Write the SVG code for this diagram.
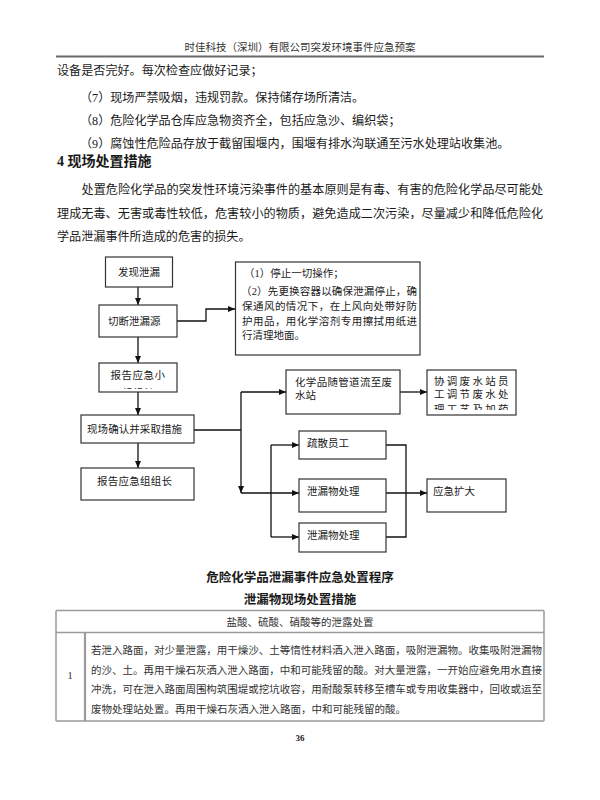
<svg xmlns="http://www.w3.org/2000/svg" width="600" height="800" viewBox="0 0 600 800">
<style>
text{font-family:"Liberation Serif","Noto Sans CJK SC",serif;fill:#1a1a1a}
.body{font-size:12.1px}
.hd{font-size:10.5px;fill:#333}
.h2{font-size:14px;font-weight:bold}
.cap{font-size:12.5px;font-weight:bold}
.bx{fill:#fff;stroke:#333;stroke-width:1.2}
.bt{font-size:10.5px}
.tb{font-size:10.5px;fill:#333}
.tl{stroke:#9a9a9a;stroke-width:1.5;fill:none}
.cn{stroke:#111;stroke-width:1.3;fill:none}
.ar{marker-end:url(#ah)}
</style>
<defs>
<marker id="ah" markerWidth="7" markerHeight="6" refX="7" refY="3" orient="auto" markerUnits="userSpaceOnUse">
<path d="M0,0 L7,3 L0,6 z" fill="#111"/>
</marker>
<clipPath id="c1"><rect x="99" y="363" width="78" height="26"/></clipPath>
<clipPath id="c2"><rect x="427" y="370" width="89" height="40"/></clipPath>
</defs>
<rect width="600" height="800" fill="#fff"/>

<g id="header">
<text class="hd" x="300" y="51" text-anchor="middle">时佳科技（深圳）有限公司突发环境事件应急预案</text>
<line x1="56" y1="56.5" x2="544" y2="56.5" stroke="#6a6a6a" stroke-width="2"/>
</g>

<g id="text-body">
<text class="body" x="57" y="74.5">设备是否完好。每次检查应做好记录；</text>
<text class="body" x="80" y="101.5">（7）现场严禁吸烟，违规罚款。保持储存场所清洁。</text>
<text class="body" x="80" y="124.5">（8）危险化学品仓库应急物资齐全，包括应急沙、编织袋；</text>
<text class="body" x="80" y="147.5">（9）腐蚀性危险品存放于截留围堰内，围堰有排水沟联通至污水处理站收集池。</text>
<text class="h2" x="57" y="166">4 现场处置措施</text>
<text class="body" x="81.5" y="193.5" textLength="461.5" lengthAdjust="spacing">处置危险化学品的突发性环境污染事件的基本原则是有毒、有害的危险化学品尽可能处</text>
<text class="body" x="57" y="217.5" textLength="486" lengthAdjust="spacing">理成无毒、无害或毒性较低，危害较小的物质，避免造成二次污染，尽量减少和降低危险化</text>
<text class="body" x="57" y="240.5">学品泄漏事件所造成的危害的损失。</text>
</g>

<g id="connectors">
<line class="cn ar" x1="138" y1="287" x2="138" y2="305"/>
<polyline class="cn ar" points="177,321 206,321 206,309 235,309"/>
<line class="cn ar" x1="138" y1="337" x2="138" y2="363"/>
<line class="cn ar" x1="138" y1="392" x2="138" y2="415"/>
<line class="cn ar" x1="138" y1="443" x2="138" y2="468"/>
<line class="cn" x1="194" y1="430" x2="241" y2="430"/>
<line class="cn ar" x1="241" y1="392" x2="241" y2="493"/>
<line class="cn ar" x1="241" y1="392" x2="286" y2="392"/>
<line class="cn ar" x1="241" y1="493" x2="299" y2="493"/>
<line class="cn ar" x1="400" y1="392" x2="427" y2="392"/>
<line class="cn" x1="271" y1="445" x2="271" y2="537"/>
<line class="cn ar" x1="271" y1="445" x2="299" y2="445"/>
<line class="cn ar" x1="271" y1="537" x2="299" y2="537"/>
<polyline class="cn" points="386,445 406,445 406,537 386,537"/>
<line class="cn ar" x1="386" y1="493" x2="427" y2="493"/>
</g>

<g id="n-faxian">
<rect class="bx" x="105.5" y="257" width="67" height="30"/>
<text class="bt" x="139" y="275.5" text-anchor="middle">发现泄漏</text>
</g>
<g id="n-qieduan">
<rect class="bx" x="99" y="305" width="78" height="32"/>
<text class="bt" x="108" y="324.5">切断泄漏源</text>
</g>
<g id="n-steps">
<rect class="bx" x="235.5" y="262" width="184.5" height="93"/>
<text class="bt" x="244" y="277">（1）停止一切操作；</text>
<text class="bt" x="241" y="295" textLength="176" lengthAdjust="spacing">（2）先更换容器以确保泄漏停止，确</text>
<text class="bt" x="242" y="310" textLength="175" lengthAdjust="spacing">保通风的情况下，在上风向处带好防</text>
<text class="bt" x="242" y="324.5" textLength="175" lengthAdjust="spacing">护用品，用化学溶剂专用擦拭用纸进</text>
<text class="bt" x="242" y="339">行清理地面。</text>
</g>
<g id="n-baogao1">
<rect class="bx" x="99" y="363" width="78" height="29"/>
<text class="bt" x="138" y="379" text-anchor="middle" letter-spacing="0.5">报告应急小</text>
<text class="bt" x="138" y="396.5" text-anchor="middle" clip-path="url(#c1)">组组长</text>
</g>
<g id="n-xianchang">
<rect class="bx" x="81" y="415" width="113" height="28"/>
<text class="bt" x="87" y="432.5" textLength="95" lengthAdjust="spacing">现场确认并采取措施</text>
</g>
<g id="n-baogao2">
<rect class="bx" x="81" y="468" width="113" height="32"/>
<text class="bt" x="97" y="485" textLength="75" lengthAdjust="spacing">报告应急组组长</text>
</g>
<g id="n-huaxue">
<rect class="bx" x="286" y="370" width="114" height="44"/>
<text class="bt" x="295" y="386" textLength="97" lengthAdjust="spacing">化学品随管道流至废</text>
<text class="bt" x="295" y="399">水站</text>
</g>
<g id="n-xietiao">
<rect class="bx" x="427" y="370" width="89" height="45"/>
<text class="bt" x="434" y="385" letter-spacing="2.3">协调废水站员</text>
<text class="bt" x="434" y="398" letter-spacing="2.3">工调节废水处</text>
<text class="bt" x="434" y="412.5" letter-spacing="2.3" clip-path="url(#c2)">理工艺及加药</text>
</g>
<g id="n-shusan">
<rect class="bx" x="299" y="431" width="87" height="28"/>
<text class="bt" x="307" y="447">疏散员工</text>
</g>
<g id="n-xielou1">
<rect class="bx" x="299" y="479" width="87" height="33"/>
<text class="bt" x="307" y="495">泄漏物处理</text>
</g>
<g id="n-xielou2">
<rect class="bx" x="299" y="523" width="87" height="29"/>
<text class="bt" x="307" y="539">泄漏物处理</text>
</g>
<g id="n-kuoda">
<rect class="bx" x="427" y="479" width="79" height="33"/>
<text class="bt" x="433" y="495">应急扩大</text>
</g>

<g id="captions">
<text class="cap" x="300" y="581.5" text-anchor="middle">危险化学品泄漏事件应急处置程序</text>
<text class="cap" x="300" y="603.5" text-anchor="middle">泄漏物现场处置措施</text>
</g>

<g id="table">
<line class="tl" x1="56" y1="610.5" x2="544" y2="610.5"/>
<line class="tl" x1="56" y1="632.5" x2="544" y2="632.5"/>
<line class="tl" x1="56" y1="721" x2="544" y2="721"/>
<line class="tl" x1="56" y1="610.5" x2="56" y2="721"/>
<line class="tl" x1="544" y1="610.5" x2="544" y2="721"/>
<line x1="85" y1="632.5" x2="85" y2="721" stroke="#9a9a9a" stroke-width="2.2"/>
<text class="tb" x="300" y="626" text-anchor="middle">盐酸、硫酸、硝酸等的泄露处置</text>
<text class="tb" x="70" y="679" text-anchor="middle">1</text>
<text class="tb" x="91" y="654" textLength="451" lengthAdjust="spacing">若泄入路面，对少量泄露，用干燥沙、土等惰性材料洒入泄入路面，吸附泄漏物。收集吸附泄漏物</text>
<text class="tb" x="91" y="673.5" textLength="451" lengthAdjust="spacing">的沙、土。再用干燥石灰洒入泄入路面，中和可能残留的酸。对大量泄露，一开始应避免用水直接</text>
<text class="tb" x="91" y="693" textLength="451" lengthAdjust="spacing">冲洗，可在泄入路面周围构筑围堤或挖坑收容，用耐酸泵转移至槽车或专用收集器中，回收或运至</text>
<text class="tb" x="91" y="712.5">废物处理站处置。再用干燥石灰洒入泄入路面，中和可能残留的酸。</text>
</g>

<g id="footer">
<text x="300" y="741" text-anchor="middle" font-size="9px" font-weight="bold">36</text>
</g>
</svg>
